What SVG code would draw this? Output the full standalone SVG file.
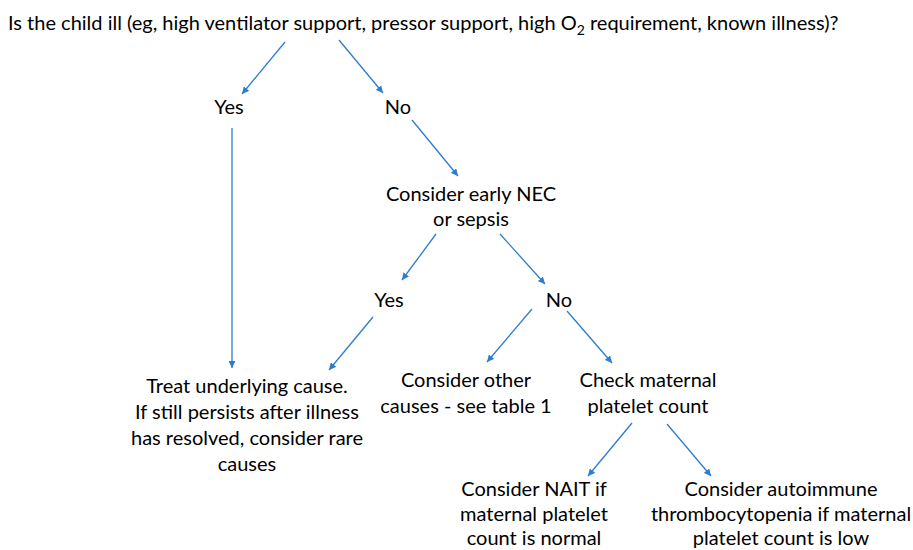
<svg xmlns="http://www.w3.org/2000/svg" width="913" height="550" viewBox="0 0 913 550">
<defs>
<marker id="ah" viewBox="0 0 10 10" refX="10" refY="5" markerWidth="7" markerHeight="7" markerUnits="userSpaceOnUse" orient="auto">
<path d="M0,0 L10,5 L0,10 z" fill="#2B7CD3"/>
</marker>
<style>
text{font-family:Lato,"Open Sans","Liberation Sans",sans-serif;font-size:20px;fill:#000;text-anchor:middle}
.t{text-anchor:start}
.c line{stroke:#2B7CD3;stroke-width:1.3;marker-end:url(#ah)}
</style>
</defs>
<rect width="913" height="550" fill="#fff"/>
<g id="q1"><text class="t" x="8" y="30">Is the child ill (eg, high ventilator support, pressor support, high O<tspan font-size="14" dy="5">2</tspan><tspan dy="-5"> requirement, known illness)?</tspan></text></g>
<g id="yes1"><text x="229" y="114">Yes</text></g>
<g id="no1"><text x="398" y="114">No</text></g>
<g id="nec"><text x="471" y="201">Consider early NEC</text><text x="471" y="226">or sepsis</text></g>
<g id="yes2"><text x="389" y="307">Yes</text></g>
<g id="no2"><text x="559" y="307">No</text></g>
<g id="treat"><text x="247" y="393">Treat underlying cause.</text><text x="247" y="419">If still persists after illness</text><text x="247" y="445">has resolved, consider rare</text><text x="247" y="471">causes</text></g>
<g id="other"><text x="466" y="387">Consider other</text><text x="466" y="413">causes - see table 1</text></g>
<g id="check"><text x="648" y="387">Check maternal</text><text x="648" y="413">platelet count</text></g>
<g id="nait"><text x="534" y="496">Consider NAIT if</text><text x="534" y="521">maternal platelet</text><text x="534" y="545">count is normal</text></g>
<g id="auto"><text x="781" y="496">Consider autoimmune</text><text x="781" y="521">thrombocytopenia if maternal</text><text x="781" y="545">platelet count is low</text></g>
<g id="connectors" class="c">
<line x1="285" y1="42" x2="242" y2="94"/>
<line x1="339" y1="40" x2="383" y2="93"/>
<line x1="232" y1="128" x2="232" y2="368"/>
<line x1="412" y1="120" x2="458" y2="176"/>
<line x1="436" y1="234" x2="402" y2="280"/>
<line x1="500" y1="234" x2="545" y2="284"/>
<line x1="373" y1="317" x2="329" y2="370"/>
<line x1="532" y1="309" x2="487" y2="362"/>
<line x1="567" y1="311" x2="612" y2="363"/>
<line x1="632" y1="423" x2="588" y2="476"/>
<line x1="667" y1="424" x2="711" y2="476"/>
</g>
</svg>
